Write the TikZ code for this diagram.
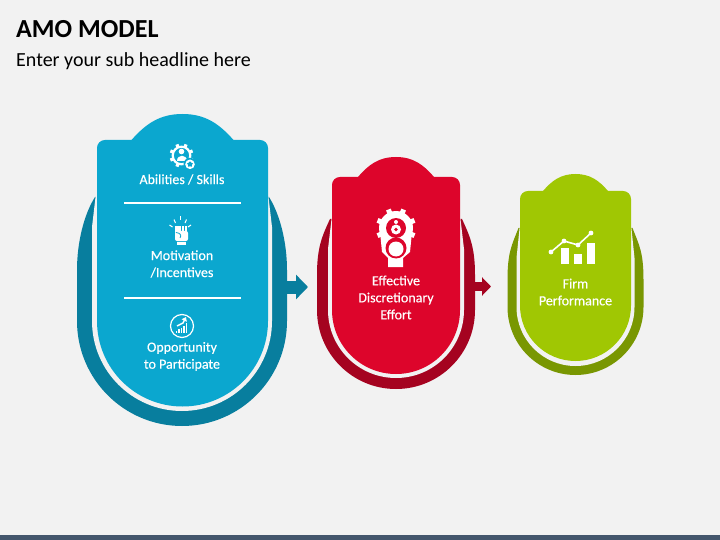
\documentclass[tikz,border=0pt]{standalone}
\usepackage{fontspec}
\setmainfont{Carlito}
\newfontfamily\cardfont[FakeBold=0.35]{Carlito}
\usetikzlibrary{arrows.meta,shapes.geometric}

\definecolor{pagebg}{HTML}{F2F2F2}
\definecolor{barblue}{HTML}{44566C}
\definecolor{amoblue}{HTML}{0BA7CF}
\definecolor{amobluedk}{HTML}{087E9E}
\definecolor{amored}{HTML}{DD052B}
\definecolor{amoreddk}{HTML}{A50320}
\definecolor{amogreen}{HTML}{A0C703}
\definecolor{amogreendk}{HTML}{799702}

% back shell: cx, r, cy, light r, panel half width, tip y, tip dx, curve start y, colour
\newcommand{\amoshell}[9]{
  \fill[#9] ({#1-#2},#3) arc[start angle=180, end angle=360, radius=#2pt]
    -- ({#1+#2},#8) .. controls ({#1+#2},{#8-28}) and ({#1+#2-#7*0.4},{#6+17}) .. ({#1+#2-#7},#6)
    -- ({#1-#2+#7},#6) .. controls ({#1-#2+#7*0.4},{#6+17}) and ({#1-#2},{#8-28}) .. ({#1-#2},#8) -- cycle;
  \fill[pagebg] ({#1-#4},#3) arc[start angle=180, end angle=360, radius=#4pt]
    -- ({#1+#4},{#6+30}) -- ({#1+#5},{#6-4}) -- ({#1-#5},{#6-4}) -- ({#1-#4},{#6+30}) -- cycle;
}
% front panel: cx, half width, top y, hump half width, hump top y, cy, colour
\newcommand{\amopanel}[7]{
  \fill[#7] ({#1-#2},#6) -- ({#1-#2},{#3+8}) .. controls ({#1-#2},{#3+3.5}) and ({#1-#2+3.5},#3) .. ({#1-#2+8},#3)
    -- ({#1-#4},#3) .. controls ({#1-#4*0.72},{#3-(#3-#5)*0.62}) and ({#1-#4*0.45},#5) .. (#1,#5)
    .. controls ({#1+#4*0.45},#5) and ({#1+#4*0.72},{#3-(#3-#5)*0.62}) .. ({#1+#4},#3)
    -- ({#1+#2-8},#3) .. controls ({#1+#2-3.5},#3) and ({#1+#2},{#3+3.5}) .. ({#1+#2},{#3+8})
    -- ({#1+#2},#6) arc[start angle=0, end angle=-180, radius=#2pt] -- cycle;
}
% gear teeth: cx, cy, inner r, outer r, tooth width, colour
\newcommand{\amoteeth}[6]{
  \foreach \a in {0,45,...,315}
    \draw[#6, line width=#5pt] ({#1+#3*cos(\a+22.5)},{#2+#3*sin(\a+22.5)}) -- ({#1+#4*cos(\a+22.5)},{#2+#4*sin(\a+22.5)});
}

\begin{document}
\begin{tikzpicture}[
    x=1pt, y=-1pt,
    every node/.style={text=white, inner sep=0pt},
    titletext/.style={text=black, anchor=base west, font=\fontsize{26}{26}\selectfont\bfseries},
    subtext/.style={text=black, anchor=base west, font=\fontsize{20}{20}\selectfont},
    cardtext/.style={align=center, font=\fontsize{14}{17}\selectfont\cardfont},
    divider/.style={draw=white, line width=2pt},
    flowblue/.style={amobluedk, line width=13pt, -{Triangle[length=12pt,width=24pt]}},
    flowred/.style={amoreddk, line width=9pt, -{Triangle[length=9pt,width=18pt]}},
    icon/.style={draw=white, line width=2.2pt, fill=none}
  ]
  \useasboundingbox (0,0) rectangle (720,540);
  \fill[pagebg] (0,0) rectangle (720,540);
  \fill[barblue] (0,535) rectangle (720,540);

  \node (title) [titletext] at (16,37.5) {AMO MODEL};
  \node (subtitle) [subtext] at (16,66.5) {Enter your sub headline here};

  % blue card
  \coordinate (blueout) at (285,287);
  \coordinate (bluetip) at (308,287);
  \draw[flowblue] (blueout) -- (bluetip);
  \amoshell{182}{105}{321}{90}{86}{197}{18}{270}{amobluedk}
  \amopanel{182.5}{85.5}{140}{51}{114}{321}{amoblue}
  \node (abilities) [cardtext] at (182,179.5) {Abilities / Skills};
  \node (motivation) [cardtext] at (182,264) {Motivation\\/Incentives};
  \node (opportunity) [cardtext] at (182,356.5) {Opportunity\\to Participate};
  \draw[divider] (124,203) -- (241,203);
  \draw[divider] (124,298) -- (241,298);

  % gear icon
  \draw[icon] (181.5,155.5) circle[radius=8.8pt];
  \amoteeth{181.5}{155.5}{9}{12}{3.2}{white}
  \fill[white] (181.5,151.5) circle[radius=2.8pt];
  \fill[white] (176.5,161) .. controls (176.5,154.5) and (186.5,154.5) .. (186.5,161) -- cycle;
  \fill[amoblue] (190,164.3) circle[radius=6.5pt];
  \fill[white] (190,164.3) circle[radius=4.8pt];
  \node (badge) [star, star points=5, fill=amoblue, minimum size=6pt] at (190,164.3) {};

  % fist icon
  \foreach \a/\b/\c/\d in {180/220/180/216.5, 175.5/223/174/219.5, 185/223/186.5/219.5, 172.5/227/169.5/225, 188/227/191/225}
    \draw[white, line width=1pt] (\a,\b) -- (\c,\d);
  \foreach \a in {176.5,179.7,182.9,186.1}
    \fill[white] ({\a-1.3},226) rectangle ({\a+1.3},232);
  \fill[white, rounded corners=2pt] (175,231) rectangle (188,241);
  \draw[amoblue, line width=0.8pt] (176,232.5) .. controls (180,233) and (182,235) .. (180,238);
  \fill[white] (176.7,242) rectangle (186,245);

  % chart icon
  \draw[white, line width=1.2pt] (182,326) circle[radius=11.5pt];
  \foreach \a/\b in {176.5/331, 179/329, 181.5/328, 184/326, 186.5/323}
    \fill[white] ({\a-0.8},\b) rectangle ({\a+0.8},333);
  \draw[white, line width=1.4pt, -{Triangle[length=4pt,width=5.5pt]}] (177,326) -- (183,323) -- (186,317);

  % red card
  \coordinate (redout) at (474,286.5);
  \coordinate (redtip) at (491,286.5);
  \draw[flowred] (redout) -- (redtip);
  \amoshell{396}{79}{310}{68}{64}{219}{13}{275}{amoreddk}
  \amopanel{396}{64}{177}{38}{157}{310}{amored}
  \node (effort) [cardtext] at (396,297.5) {Effective\\Discretionary\\Effort};

  % traffic gear icon
  \fill[white] (396,228) circle[radius=17pt];
  \amoteeth{396}{228}{16}{20}{5}{white}
  \fill[white] (380,232) -- (382,252) -- (388,258) -- (388,267) -- (403,267) -- (403,258) -- (410,252) -- (412,232) -- cycle;
  \fill[amored] (396,228) circle[radius=10pt];
  \fill[amored] (396,248) circle[radius=10.5pt];
  \fill[white] (396,249) circle[radius=7.5pt];
  \fill[white] (396,222) circle[radius=2pt];
  \fill[white] (396,229.5) circle[radius=5pt];
  \fill[amored] (396,229.5) circle[radius=1.8pt];

  % green card
  \amoshell{575.5}{68}{307}{59}{55.5}{228}{11}{280}{amogreendk}
  \amopanel{575.5}{55.5}{191}{32.5}{174}{305.5}{amogreen}
  \node (firm) [cardtext] at (575.5,292) {Firm\\Performance};

  % growth icon
  \fill[white] (561,248) rectangle (569,264);
  \fill[white] (574,254) rectangle (582,264);
  \fill[white] (587,243) rectangle (595,264);
  \draw[white, line width=1.6pt] (551,252) -- (564,241) -- (578,245) -- (591,233);
  \foreach \a/\b in {551/252, 564/241, 578/245, 591/233}
    \fill[white] (\a,\b) circle[radius=2.4pt];
\end{tikzpicture}
\end{document}
